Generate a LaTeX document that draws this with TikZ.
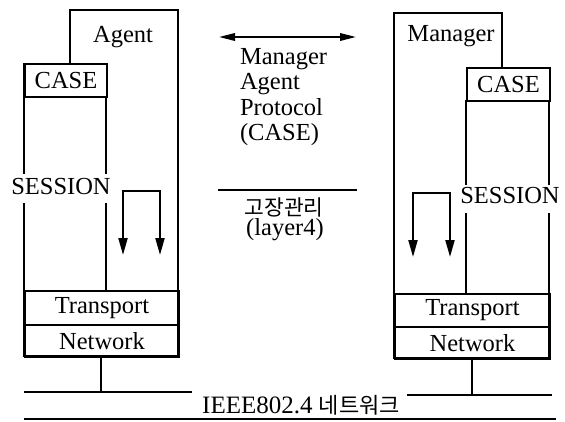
\documentclass[tikz,border=0pt]{standalone}
\usepackage{fontspec}
\setmainfont{Liberation Serif}
\newfontfamily\krfont{Noto Sans CJK KR}
\usetikzlibrary{arrows.meta}

\begin{document}
\begin{tikzpicture}[x=1pt, y=-1pt, line width=2pt,
  txt/.style={font=\fontsize{24.5}{26}\selectfont, inner sep=0pt},
  kr/.style={font=\krfont\fontsize{21.5}{24}\selectfont, inner sep=0pt},
  layerbox/.style={draw, line width=2pt, inner sep=0pt,
    font=\fontsize{24.5}{26}\selectfont, minimum height=33pt},
  flow/.style={{Triangle[length=17pt,width=9pt]}-{Triangle[length=17pt,width=9pt]}, line width=2pt},
  proto/.style={{Triangle[length=16pt,width=7.5pt]}-{Triangle[length=16pt,width=7.5pt]}, line width=1.8pt},
  bus/.style={line width=2pt}]
\fill[white] (0,0) rectangle (565,421);
\useasboundingbox (0,0) rectangle (565,421);

% ---------------- Agent stack ----------------
\draw (70,63) -- (70,10) -- (178,10) -- (178,356) -- (24,356) -- (24,203);
\draw (24,174) -- (24,63);
\draw (106,97) -- (106,174);
\draw (106,203) -- (106,290);
\node[layerbox, minimum width=82pt, anchor=north west] (caseA) at (24,63) {CASE};
\node[txt] (agent) at (123,37) {Agent};
\node[txt] (sessA) at (61,187) {SESSION};
\node[layerbox, minimum width=154pt, minimum height=34pt, anchor=north west] (transA) at (24,290) {Transport};
\node[layerbox, minimum width=154pt, minimum height=32pt, anchor=north west] (netA) at (24,324) {Network};

% service loop inside the agent
\coordinate (loopA1) at (123,255);
\coordinate (loopA2) at (123,191);
\coordinate (loopA3) at (160,191);
\coordinate (loopA4) at (160,255);
\draw[flow] (loopA1) -- (loopA2) -- (loopA3) -- (loopA4);

% ---------------- Manager stack ----------------
\draw (502,67) -- (502,13) -- (394,13) -- (394,358) -- (549,358) -- (549,213);
\draw (549,185) -- (549,100);
\draw (466,100) -- (466,185);
\draw (466,213) -- (466,293);
\node[layerbox, minimum width=83pt, anchor=north west] (caseM) at (466,67) {CASE};
\node[txt] (manager) at (451,36) {Manager};
\node[txt] (sessM) at (510,196) {SESSION};
\node[layerbox, minimum width=155pt, anchor=north west] (transM) at (394,293) {Transport};
\node[layerbox, minimum width=155pt, minimum height=32pt, anchor=north west] (netM) at (394,326) {Network};

% service loop inside the manager
\coordinate (loopM1) at (413,257);
\coordinate (loopM2) at (413,193);
\coordinate (loopM3) at (450,193);
\coordinate (loopM4) at (450,257);
\draw[flow] (loopM1) -- (loopM2) -- (loopM3) -- (loopM4);

% ---------------- Protocol between the stacks ----------------
\coordinate (protoL) at (219,37);
\coordinate (protoR) at (356,37);
\draw[proto] (protoL) -- (protoR);
\node[txt, align=left, anchor=north west, font=\fontsize{24.5}{25.5}\selectfont] (protoTxt) at (239,47)
  {Manager\\Agent\\Protocol\\(CASE)};

\coordinate (sepL) at (218,190);
\coordinate (sepR) at (357,190);
\draw[line width=1.8pt] (sepL) -- (sepR);
\node[kr] (fault) at (284,207) {고장관리};
\node[txt] (layer) at (285,230) {(layer4)};

% ---------------- IEEE 802.4 bus ----------------
\node[inner sep=0pt] (busTxt) at (301,405)
  {\fontsize{25}{26}\selectfont IEEE802.4 {\krfont\fontsize{22}{24}\selectfont 네트워크}};
\coordinate (busLa) at (24,392);
\coordinate (busLb) at (192,392);
\coordinate (busRa) at (407,395);
\coordinate (busRb) at (552,395);
\coordinate (busBa) at (24,419);
\coordinate (busBb) at (556,419);
\draw[bus] (busLa) -- (busLb);
\draw[bus] (busRa) -- (busRb);
\draw[bus] (busBa) -- (busBb);

% drops from the network layers to the bus
\coordinate (tapA) at (101,392);
\coordinate (tapM) at (472,395);
\draw[bus] (netA.south -| tapA) -- (tapA);
\draw[bus] (netM.south -| tapM) -- (tapM);
\end{tikzpicture}
\end{document}
